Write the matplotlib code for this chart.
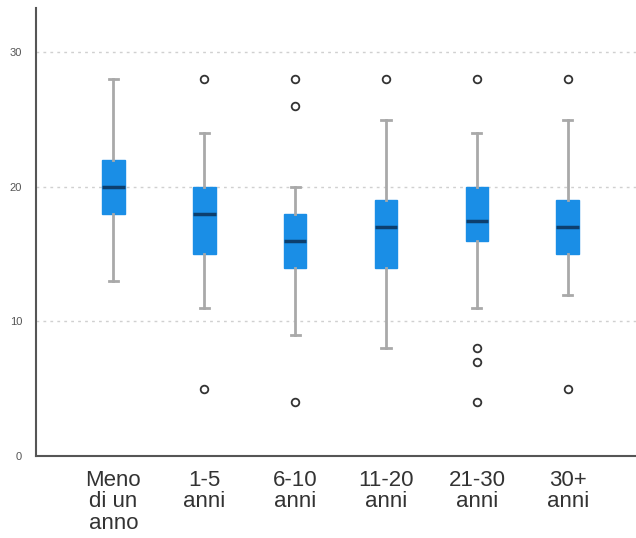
import matplotlib.pyplot as plt
import numpy as np

plt.rcParams['font.family'] = ['Liberation Sans', 'DejaVu Sans']

# Category labels
labels = ["Meno\ndi un\nanno", "1-5\nanni", "6-10\nanni", "11-20\nanni", "21-30\nanni", "30+\nanni"]

# Box plot statistics
whislo = [13, 11, 9, 8, 11, 12]
q1 = [18, 15, 14, 14, 16, 15]
med = [20, 18, 16, 17, 17.5, 17]
q3 = [22, 20, 18, 19, 20, 19]
whishi = [28, 24, 20, 25, 24, 25]
outliers = [[], [28, 5], [28, 26, 4], [28], [28, 8, 7, 4], [28, 5]]

stats = []
for i in range(len(labels)):
    stats.append(dict(whislo=whislo[i], q1=q1[i], med=med[i], q3=q3[i],
                      whishi=whishi[i], fliers=np.array(outliers[i])))

fig = plt.figure(figsize=(6.36, 5.38), dpi=100)
ax = fig.add_axes([0.0566, 0.1524, 0.9434, 0.8327])

ax.bxp(stats, positions=range(len(labels)), widths=0.25, patch_artist=True,
       capwidths=0.1,
       boxprops=dict(facecolor='#1a8ee6', edgecolor='#1a8ee6', linewidth=1),
       medianprops=dict(color='#0d3f6e', linewidth=2.5),
       whiskerprops=dict(color='#a9a9a9', linewidth=2),
       capprops=dict(color='#a9a9a9', linewidth=2),
       flierprops=dict(marker='o', markerfacecolor='white', markeredgecolor='#333333',
                       markersize=5.5, markeredgewidth=1.3),
       zorder=3)

ax.set_xlim(-0.85, 5.75)
ax.set_ylim(0, 33.3)
ax.set_yticks([0, 10, 20, 30])
ax.set_xticks(range(len(labels)))
ax.set_xticklabels(labels, fontsize=16, color='#333333', linespacing=1.03)
ax.tick_params(axis='y', length=0, labelsize=8, labelcolor='#555555', pad=10)
ax.tick_params(axis='x', length=0, pad=10)

for yv in [10, 20, 30]:
    ax.axhline(yv, color='#d0d0d0', linestyle=(0, (2, 3)), linewidth=1, zorder=1)

for side in ['top', 'right']:
    ax.spines[side].set_visible(False)
ax.spines['left'].set_color('#555555')
ax.spines['bottom'].set_color('#555555')
ax.spines['left'].set_linewidth(1.5)
ax.spines['bottom'].set_linewidth(1.5)

fig.savefig('out.png', dpi=100)
